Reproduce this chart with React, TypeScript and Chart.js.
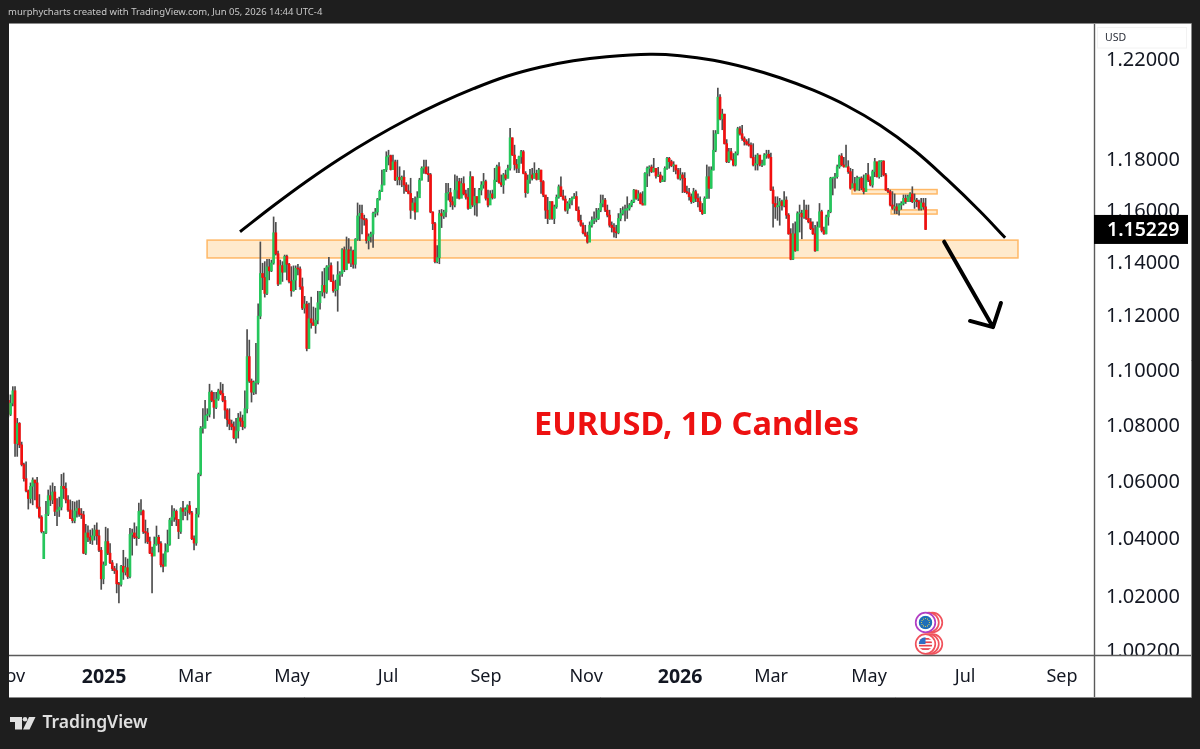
import React, { useEffect, useRef } from "react";
import { Chart, registerables } from "chart.js";

Chart.register(...registerables);

const closes = [
1.0835,1.0875,1.0920,1.0730,1.0802,1.0725,1.0655,1.0605,1.0562,1.0535,
1.0578,1.0600,1.0590,1.0505,1.0470,1.0420,1.0415,1.0480,1.0545,1.0530,
1.0558,1.0490,1.0495,1.0505,1.0578,1.0570,1.0530,1.0495,1.0465,1.0458,
1.0492,1.0500,1.0480,1.0478,1.0345,1.0415,1.0400,1.0390,1.0405,1.0425,
1.0405,1.0355,1.0257,1.0305,1.0385,1.0345,1.0312,1.0292,1.0285,1.0240,
1.0238,1.0300,1.0280,1.0295,1.0265,1.0410,1.0415,1.0400,1.0398,1.0490,
1.0492,1.0420,1.0415,1.0385,1.0345,1.0335,1.0375,1.0400,1.0378,1.0305,
1.0300,1.0350,1.0375,1.0460,1.0470,1.0490,1.0462,1.0420,1.0500,1.0490,
1.0495,1.0510,1.0485,1.0395,1.0380,1.0480,1.0620,1.0785,1.0785,1.0830,
1.0835,1.0915,1.0885,1.0860,1.0890,1.0920,1.0910,1.0885,1.0850,1.0815,
1.0800,1.0790,1.0750,1.0775,1.0822,1.0810,1.0790,1.0855,1.1045,1.0955,
1.0915,1.0950,1.0950,1.1195,1.1355,1.1340,1.1280,1.1380,1.1365,1.1395,
1.1510,1.1430,1.1315,1.1385,1.1360,1.1420,1.1390,1.1325,1.1290,1.1330,
1.1375,1.1372,1.1305,1.1225,1.1240,1.1075,1.1185,1.1170,1.1160,1.1180,
1.1245,1.1285,1.1310,1.1285,1.1380,1.1385,1.1325,1.1290,1.1295,1.1350,
1.1355,1.1445,1.1370,1.1445,1.1395,1.1440,1.1390,1.1485,1.1575,1.1585,
1.1565,1.1560,1.1480,1.1495,1.1505,1.1585,1.1590,1.1640,1.1670,1.1695,
1.1755,1.1805,1.1810,1.1755,1.1785,1.1715,1.1725,1.1715,1.1725,1.1695,
1.1672,1.1662,1.1597,1.1625,1.1590,1.1645,1.1714,1.1760,1.1765,1.1740,
1.1735,1.1590,1.1545,1.1400,1.1415,1.1584,1.1575,1.1590,1.1662,1.1665,
1.1630,1.1617,1.1675,1.1708,1.1643,1.1700,1.1660,1.1647,1.1604,1.1727,
1.1617,1.1650,1.1625,1.1675,1.1695,1.1708,1.1643,1.1617,1.1660,1.1645,
1.1714,1.1766,1.1704,1.1695,1.1734,1.1721,1.1760,1.1880,1.1812,1.1775,
1.1760,1.1805,1.1825,1.1740,1.1665,1.1714,1.1734,1.1721,1.1740,1.1717,
1.1753,1.1708,1.1656,1.1597,1.1565,1.1630,1.1565,1.1610,1.1647,1.1688,
1.1652,1.1640,1.1597,1.1623,1.1636,1.1643,1.1650,1.1597,1.1558,1.1539,
1.1510,1.1500,1.1474,1.1539,1.1558,1.1560,1.1565,1.1597,1.1623,1.1636,
1.1597,1.1578,1.1539,1.1530,1.1513,1.1510,1.1565,1.1584,1.1597,1.1597,
1.1604,1.1617,1.1630,1.1675,1.1643,1.1660,1.1623,1.1617,1.1740,1.1760,
1.1765,1.1747,1.1760,1.1730,1.1734,1.1708,1.1714,1.1760,1.1799,1.1786,
1.1770,1.1773,1.1753,1.1721,1.1734,1.1721,1.1669,1.1665,1.1649,1.1630,
1.1669,1.1643,1.1630,1.1597,1.1584,1.1643,1.1727,1.1682,1.1753,1.1831,
1.1896,1.2042,1.1955,1.1974,1.1857,1.1786,1.1825,1.1795,1.1773,1.1818,
1.1916,1.1896,1.1877,1.1865,1.1855,1.1851,1.1803,1.1773,1.1778,1.1812,
1.1773,1.1773,1.1812,1.1815,1.1803,1.1675,1.1623,1.1610,1.1615,1.1630,
1.1615,1.1636,1.1578,1.1506,1.1409,1.1506,1.1441,1.1584,1.1585,1.1571,
1.1597,1.1565,1.1552,1.1526,1.1506,1.1441,1.1532,1.1591,1.1519,1.1506,
1.1571,1.1591,1.1721,1.1723,1.1727,1.1766,1.1808,1.1773,1.1766,1.1766,
1.1747,1.1682,1.1700,1.1675,1.1721,1.1721,1.1682,1.1669,1.1734,1.1714,
1.1695,1.1747,1.1786,1.1727,1.1786,1.1788,1.1734,1.1675,1.1669,1.1617,
1.1604,1.1610,1.1597,1.1617,1.1623,1.1643,1.1630,1.1649,1.1660,1.1630,
1.1636,1.1630,1.1604,1.1625,1.1610,1.15229,
];

const highs = [
1.0905,1.0905,1.0935,1.0935,1.0820,1.0805,1.0735,1.0660,1.0665,1.0565,
1.0590,1.0608,1.0600,1.0610,1.0549,1.0475,1.0420,1.0525,1.0565,1.0580,
1.0590,1.0578,1.0535,1.0540,1.0620,1.0625,1.0590,1.0545,1.0530,1.0525,
1.0523,1.0527,1.0530,1.0500,1.0490,1.0445,1.0440,1.0425,1.0430,1.0442,
1.0450,1.0425,1.0365,1.0315,1.0435,1.0430,1.0378,1.0320,1.0300,1.0309,
1.0245,1.0303,1.0355,1.0330,1.0325,1.0431,1.0428,1.0450,1.0437,1.0519,
1.0531,1.0495,1.0460,1.0431,1.0401,1.0366,1.0401,1.0439,1.0407,1.0385,
1.0343,1.0378,1.0425,1.0466,1.0510,1.0500,1.0495,1.0454,1.0503,1.0525,
1.0503,1.0513,1.0525,1.0490,1.0405,1.0501,1.0625,1.0791,1.0855,1.0885,
1.0855,1.0944,1.0920,1.0914,1.0914,1.0926,1.0950,1.0944,1.0900,1.0855,
1.0855,1.0814,1.0808,1.0820,1.0838,1.0844,1.0832,1.0920,1.1145,1.1106,
1.0963,1.0956,1.1094,1.1241,1.1475,1.1394,1.1400,1.1409,1.1409,1.1406,
1.1571,1.1550,1.1440,1.1406,1.1400,1.1425,1.1425,1.1394,1.1381,1.1384,
1.1384,1.1390,1.1380,1.1338,1.1269,1.1250,1.1244,1.1266,1.1229,1.1225,
1.1288,1.1288,1.1362,1.1375,1.1385,1.1416,1.1395,1.1350,1.1330,1.1400,
1.1362,1.1450,1.1456,1.1494,1.1488,1.1456,1.1444,1.1488,1.1625,1.1617,
1.1617,1.1578,1.1565,1.1506,1.1513,1.1590,1.1604,1.1643,1.1675,1.1753,
1.1756,1.1825,1.1831,1.1812,1.1812,1.1792,1.1792,1.1766,1.1730,1.1751,
1.1704,1.1695,1.1721,1.1643,1.1649,1.1669,1.1721,1.1766,1.1792,1.1792,
1.1766,1.1740,1.1591,1.1550,1.1461,1.1597,1.1600,1.1597,1.1701,1.1701,
1.1682,1.1649,1.1734,1.1730,1.1721,1.1721,1.1727,1.1675,1.1682,1.1747,
1.1727,1.1682,1.1649,1.1682,1.1708,1.1740,1.1714,1.1675,1.1673,1.1675,
1.1760,1.1773,1.1782,1.1734,1.1740,1.1753,1.1773,1.1918,1.1880,1.1851,
1.1795,1.1808,1.1831,1.1830,1.1747,1.1734,1.1756,1.1760,1.1782,1.1753,
1.1760,1.1753,1.1712,1.1652,1.1647,1.1630,1.1630,1.1617,1.1656,1.1695,
1.1727,1.1675,1.1652,1.1630,1.1643,1.1649,1.1662,1.1669,1.1610,1.1578,
1.1548,1.1539,1.1513,1.1552,1.1571,1.1591,1.1604,1.1604,1.1656,1.1656,
1.1643,1.1617,1.1597,1.1552,1.1545,1.1539,1.1584,1.1604,1.1610,1.1617,
1.1649,1.1623,1.1636,1.1678,1.1675,1.1673,1.1665,1.1669,1.1743,1.1766,
1.1770,1.1773,1.1799,1.1753,1.1764,1.1745,1.1730,1.1766,1.1803,1.1803,
1.1792,1.1786,1.1766,1.1760,1.1760,1.1743,1.1743,1.1691,1.1682,1.1660,
1.1682,1.1675,1.1660,1.1649,1.1623,1.1649,1.1773,1.1766,1.1766,1.1909,
1.1909,1.2078,1.2052,1.1994,1.1974,1.1873,1.1838,1.1838,1.1818,1.1825,
1.1922,1.1925,1.1929,1.1884,1.1873,1.1877,1.1860,1.1857,1.1812,1.1818,
1.1799,1.1792,1.1818,1.1831,1.1831,1.1820,1.1688,1.1649,1.1649,1.1643,
1.1636,1.1669,1.1649,1.1584,1.1526,1.1545,1.1552,1.1591,1.1617,1.1597,
1.1636,1.1617,1.1617,1.1565,1.1552,1.1539,1.1552,1.1623,1.1597,1.1532,
1.1578,1.1597,1.1725,1.1725,1.1740,1.1773,1.1812,1.1818,1.1803,1.1851,
1.1790,1.1760,1.1756,1.1725,1.1730,1.1725,1.1727,1.1734,1.1740,1.1779,
1.1727,1.1753,1.1799,1.1753,1.1790,1.1790,1.1790,1.1740,1.1682,1.1675,
1.1669,1.1660,1.1623,1.1623,1.1630,1.1656,1.1656,1.1656,1.1665,1.1688,
1.1660,1.1643,1.1636,1.1643,1.1643,1.1643,
];

const lows = [
1.0825,1.0830,1.0865,1.0684,1.0684,1.0715,1.0650,1.0596,1.0558,1.0498,
1.0519,1.0513,1.0530,1.0500,1.0466,1.0415,1.0326,1.0412,1.0475,1.0510,
1.0517,1.0475,1.0440,1.0472,1.0495,1.0535,1.0520,1.0490,1.0465,1.0450,
1.0450,1.0470,1.0472,1.0465,1.0343,1.0340,1.0385,1.0378,1.0375,1.0390,
1.0375,1.0350,1.0221,1.0240,1.0303,1.0340,1.0309,1.0285,1.0275,1.0209,
1.0175,1.0232,1.0255,1.0270,1.0258,1.0260,1.0338,1.0395,1.0372,1.0395,
1.0478,1.0413,1.0380,1.0378,1.0343,1.0209,1.0338,1.0372,1.0349,1.0298,
1.0281,1.0315,1.0349,1.0372,1.0440,1.0455,1.0440,1.0395,1.0413,1.0460,
1.0475,1.0460,1.0480,1.0392,1.0356,1.0372,1.0470,1.0615,1.0767,1.0785,
1.0812,1.0825,1.0880,1.0820,1.0855,1.0885,1.0905,1.0880,1.0820,1.0791,
1.0779,1.0779,1.0746,1.0732,1.0749,1.0791,1.0779,1.0785,1.0840,1.0950,
1.0879,1.0906,1.0909,1.0944,1.1185,1.1294,1.1266,1.1275,1.1331,1.1362,
1.1390,1.1425,1.1309,1.1319,1.1325,1.1362,1.1331,1.1319,1.1269,1.1288,
1.1294,1.1350,1.1295,1.1219,1.1206,1.1066,1.1075,1.1150,1.1166,1.1131,
1.1166,1.1221,1.1270,1.1263,1.1280,1.1331,1.1325,1.1284,1.1270,1.1213,
1.1310,1.1344,1.1362,1.1369,1.1394,1.1381,1.1375,1.1375,1.1481,1.1480,
1.1506,1.1539,1.1470,1.1448,1.1474,1.1454,1.1571,1.1578,1.1636,1.1669,
1.1695,1.1747,1.1773,1.1753,1.1756,1.1712,1.1695,1.1695,1.1688,1.1662,
1.1669,1.1660,1.1565,1.1597,1.1561,1.1597,1.1662,1.1714,1.1740,1.1738,
1.1708,1.1587,1.1522,1.1395,1.1395,1.1392,1.1530,1.1565,1.1571,1.1636,
1.1610,1.1600,1.1610,1.1643,1.1640,1.1652,1.1656,1.1640,1.1600,1.1604,
1.1610,1.1578,1.1574,1.1630,1.1656,1.1682,1.1636,1.1610,1.1636,1.1640,
1.1643,1.1708,1.1701,1.1688,1.1662,1.1714,1.1721,1.1753,1.1810,1.1753,
1.1743,1.1743,1.1779,1.1738,1.1647,1.1662,1.1701,1.1714,1.1721,1.1714,
1.1717,1.1662,1.1649,1.1565,1.1545,1.1561,1.1561,1.1545,1.1604,1.1643,
1.1649,1.1636,1.1593,1.1584,1.1604,1.1617,1.1643,1.1595,1.1552,1.1535,
1.1506,1.1496,1.1470,1.1480,1.1532,1.1545,1.1552,1.1561,1.1591,1.1610,
1.1591,1.1571,1.1532,1.1513,1.1493,1.1491,1.1506,1.1556,1.1578,1.1556,
1.1565,1.1597,1.1610,1.1626,1.1639,1.1634,1.1621,1.1617,1.1617,1.1688,
1.1730,1.1743,1.1745,1.1721,1.1727,1.1704,1.1708,1.1708,1.1756,1.1760,
1.1766,1.1747,1.1738,1.1717,1.1714,1.1665,1.1665,1.1660,1.1636,1.1623,
1.1626,1.1630,1.1610,1.1591,1.1580,1.1584,1.1643,1.1643,1.1682,1.1753,
1.1825,1.1896,1.1951,1.1912,1.1855,1.1782,1.1782,1.1792,1.1769,1.1769,
1.1812,1.1890,1.1870,1.1851,1.1851,1.1847,1.1801,1.1769,1.1753,1.1753,
1.1769,1.1766,1.1773,1.1799,1.1799,1.1673,1.1532,1.1565,1.1558,1.1539,
1.1597,1.1610,1.1565,1.1504,1.1407,1.1407,1.1439,1.1444,1.1513,1.1487,
1.1565,1.1561,1.1548,1.1522,1.1504,1.1439,1.1448,1.1532,1.1513,1.1504,
1.1506,1.1539,1.1587,1.1656,1.1682,1.1721,1.1760,1.1769,1.1764,1.1764,
1.1740,1.1678,1.1691,1.1671,1.1678,1.1673,1.1676,1.1660,1.1682,1.1708,
1.1691,1.1686,1.1727,1.1725,1.1721,1.1727,1.1730,1.1673,1.1665,1.1613,
1.1600,1.1584,1.1584,1.1578,1.1600,1.1617,1.1623,1.1630,1.1630,1.1626,
1.1604,1.1610,1.1597,1.1597,1.1600,1.1522,
];

const firstOpen = 1.0885;
const gapOpens: Record<number, number> = { 16: 1.0326 };
const lastPrice = 1.15229;

const yTickValues = [1.002, 1.02, 1.04, 1.06, 1.08, 1.1, 1.12, 1.14, 1.16, 1.18, 1.22];
const xTickPositions = [0, 43.3, 84.4, 128.3, 171.8, 216.1, 261.4, 303.9, 345.1, 389.4, 432.9, 476.7];
const xTickLabels = ["Nov", "2025", "Mar", "May", "Jul", "Sep", "Nov", "2026", "Mar", "May", "Jul", "Sep"];
const boldXTicks = ["2025", "2026"];

const zoneStarts = [89.9, 381.7, 399.4];
const zoneEnds = [456.8, 420.2, 420.2];
const zoneLows = [1.1414, 1.166, 1.1582];
const zoneHighs = [1.1482, 1.1677, 1.1598];

const curveIdx = [104.8, 119.9, 135, 150, 165.1, 180.2, 195.3, 210.4, 225.5, 240.5, 255.6, 270.7, 290.3, 303.9, 319, 334, 349.1, 364.2, 379.3, 394.4, 409.6, 424.6, 439.6, 451];
const curvePrice = [1.15141, 1.16142, 1.17095, 1.17977, 1.18783, 1.19518, 1.20177, 1.20759, 1.21263, 1.21628, 1.21891, 1.22053, 1.22151, 1.22095, 1.21911, 1.21606, 1.21202, 1.20699, 1.20077, 1.19299, 1.1833, 1.17173, 1.1593, 1.14912];
const arrowIdx = [423.4, 445.5, 435.1, 445.5, 449.1];
const arrowPrice = [1.1476, 1.1154, 1.1177, 1.1154, 1.1244];

const FONT = "'Noto Sans', sans-serif";
const DARK = "#1e1e1e";
const UP = "#25c75c";
const DOWN = "#f20f0f";
const WICK = "#4d4d4d";

const opens = closes.map((_, i) => gapOpens[i] ?? (i === 0 ? firstOpen : closes[i - 1]));

function drawCoin(ctx: CanvasRenderingContext2D, cx: number, cy: number, us: boolean) {
  const offsets = [7, 3.5, 0];
  offsets.forEach((o, k) => {
    ctx.beginPath();
    ctx.arc(cx + o, cy, 9.8, 0, Math.PI * 2);
    ctx.fillStyle = "#ffffff";
    ctx.fill();
    ctx.lineWidth = 1.7;
    ctx.strokeStyle = us ? "#f0525c" : k === 2 ? "#b23fc4" : "#f0525c";
    ctx.stroke();
  });
  ctx.save();
  ctx.beginPath();
  ctx.arc(cx, cy, 6.8, 0, Math.PI * 2);
  ctx.clip();
  if (us) {
    ctx.fillStyle = "#ffffff";
    ctx.fillRect(cx - 7, cy - 7, 14, 14);
    ctx.fillStyle = "#e8424c";
    for (let s = -6; s < 7; s += 3.4) ctx.fillRect(cx - 7, cy + s, 14, 1.7);
    ctx.fillStyle = "#2f6fc4";
    ctx.fillRect(cx - 7, cy - 7, 7, 7);
  } else {
    ctx.fillStyle = "#1f6fb8";
    ctx.fillRect(cx - 7, cy - 7, 14, 14);
    ctx.fillStyle = "#e8d24a";
    for (let a = 0; a < 12; a += 1) {
      ctx.beginPath();
      ctx.arc(cx + 4 * Math.cos((a * Math.PI) / 6), cy + 4 * Math.sin((a * Math.PI) / 6), 0.6, 0, Math.PI * 2);
      ctx.fill();
    }
  }
  ctx.restore();
}

const framePlugin = {
  id: "frame",
  beforeDraw(chart: any) {
    const { ctx, width, height } = chart;
    ctx.save();
    ctx.fillStyle = DARK;
    ctx.fillRect(0, 0, width, height);
    ctx.fillStyle = "#ffffff";
    ctx.fillRect(9, 23.5, 1182, 673.5);
    ctx.restore();
  },
  beforeDatasetsDraw(chart: any) {
    const { ctx, scales } = chart;
    ctx.save();
    zoneStarts.forEach((s, i) => {
      const x0 = scales.x.getPixelForValue(s);
      const x1 = scales.x.getPixelForValue(zoneEnds[i]);
      const y0 = scales.y.getPixelForValue(zoneHighs[i]);
      const y1 = scales.y.getPixelForValue(zoneLows[i]);
      ctx.fillStyle = "rgba(255,152,0,0.2)";
      ctx.fillRect(x0, y0, x1 - x0, y1 - y0);
      ctx.strokeStyle = "#ffb866";
      ctx.lineWidth = 1.5;
      ctx.strokeRect(x0, y0, x1 - x0, y1 - y0);
    });
    ctx.restore();
  },
  afterDraw(chart: any) {
    const { ctx, scales } = chart;
    ctx.save();
    ctx.fillStyle = "#ed1111";
    ctx.font = `bold 32.5px ${FONT}`;
    ctx.textAlign = "left";
    ctx.textBaseline = "middle";
    ctx.fillText("EURUSD, 1D Candles", scales.x.getPixelForValue(237.8), scales.y.getPixelForValue(1.08) + 2);

    drawCoin(ctx, 925.5, 622.5, false);
    drawCoin(ctx, 925.5, 644, true);

    // clip axis text against the pane edges
    ctx.fillStyle = "#ffffff";
    ctx.fillRect(1095, 655, 96, 10);
    ctx.fillStyle = DARK;
    ctx.fillRect(0, 640, 9, 60);

    ctx.strokeStyle = "#5a5a5a";
    ctx.lineWidth = 1.4;
    ctx.beginPath();
    ctx.moveTo(1094.5, 24);
    ctx.lineTo(1094.5, 697);
    ctx.moveTo(9, 655.5);
    ctx.lineTo(1191, 655.5);
    ctx.stroke();
    ctx.strokeStyle = "#8a8a8a";
    ctx.lineWidth = 1;
    ctx.beginPath();
    ctx.moveTo(9, 23.5);
    ctx.lineTo(1191.5, 23.5);
    ctx.lineTo(1191.5, 697.5);
    ctx.lineTo(9, 697.5);
    ctx.stroke();

    // unit box
    ctx.fillStyle = "#ffffff";
    ctx.fillRect(1096, 25, 94, 27);
    ctx.strokeStyle = "#f2f2f2";
    ctx.strokeRect(1097.5, 27.5, 89, 20.5);
    ctx.fillStyle = "#2a2e39";
    ctx.font = `10.5px ${FONT}`;
    ctx.fillText("USD", 1105, 38);

    // last price tag
    const py = scales.y.getPixelForValue(lastPrice);
    ctx.fillStyle = "#000000";
    ctx.fillRect(1094, py - 14.5, 94, 29);
    ctx.fillStyle = "#ffffff";
    ctx.font = `600 19.5px ${FONT}`;
    ctx.fillText(lastPrice.toFixed(5), 1107, py + 1);

    // header and brand
    ctx.fillStyle = "#c9c9c9";
    ctx.font = `9.5px ${FONT}`;
    ctx.fillText("murphycharts created with TradingView.com, Jun 05, 2026 14:44 UTC-4", 8, 12.5);

    ctx.fillStyle = "#e0e0e0";
    ctx.beginPath();
    ctx.moveTo(10, 717);
    ctx.lineTo(22, 717);
    ctx.lineTo(22, 729.5);
    ctx.lineTo(15, 729.5);
    ctx.lineTo(15, 722);
    ctx.lineTo(10, 722);
    ctx.closePath();
    ctx.fill();
    ctx.beginPath();
    ctx.arc(25, 719.3, 2.3, 0, Math.PI * 2);
    ctx.fill();
    ctx.beginPath();
    ctx.moveTo(29, 717);
    ctx.lineTo(35.5, 717);
    ctx.lineTo(29.5, 729.5);
    ctx.lineTo(23, 729.5);
    ctx.closePath();
    ctx.fill();
    ctx.font = `600 17.5px ${FONT}`;
    ctx.fillText("TradingView", 42.5, 723);
    ctx.restore();
  },
};

export default function App() {
  const ref = useRef<HTMLCanvasElement | null>(null);
  useEffect(() => {
    document.body.style.margin = "0";
    document.body.style.background = DARK;
    const chart = new Chart(ref.current as HTMLCanvasElement, {
      type: "bar",
      data: {
        datasets: [
          {
            type: "line",
            data: curveIdx.map((x, i) => ({ x, y: curvePrice[i] })),
            borderColor: "#000000",
            borderWidth: 3,
            tension: 0.4,
            pointRadius: 0,
            order: 1,
          },
          {
            type: "line",
            data: arrowIdx.map((x, i) => ({ x, y: arrowPrice[i] })),
            borderColor: "#000000",
            borderWidth: 4,
            tension: 0,
            pointRadius: 0,
            borderCapStyle: "round",
            borderJoinStyle: "round",
            order: 1,
          },
          {
            type: "bar",
            data: closes.map((_, i) => ({ x: i, y: [opens[i], closes[i]] })),
            backgroundColor: closes.map((c, i) => (c >= opens[i] ? UP : DOWN)),
            barThickness: 2,
            minBarLength: 1,
            grouped: false,
            order: 2,
          },
          {
            type: "bar",
            data: closes.map((_, i) => ({ x: i, y: [lows[i], highs[i]] })),
            backgroundColor: WICK,
            barThickness: 1,
            grouped: false,
            order: 3,
          },
        ],
      } as any,
      options: {
        responsive: false,
        animation: false,
        devicePixelRatio: 1,
        events: [],
        layout: { padding: { left: 9, top: 24, right: 9, bottom: 52 } },
        plugins: { legend: { display: false }, tooltip: { enabled: false } },
        scales: {
          x: {
            type: "linear",
            position: "bottom",
            offset: false,
            min: 0.27,
            max: 491.2,
            grid: { display: false },
            border: { display: false },
            afterBuildTicks(scale: any) {
              scale.ticks = xTickPositions.map((value) => ({ value }));
            },
            afterFit(scale: any) {
              scale.height = 42;
              scale.paddingLeft = 0;
              scale.paddingRight = 0;
            },
            ticks: {
              autoSkip: false,
              maxRotation: 0,
              padding: 3,
              color: "#131722",
              callback: (_v: any, i: number) => xTickLabels[i],
              font: (c: any) => {
                const bold = boldXTicks.includes(xTickLabels[c.index]);
                return { family: FONT, size: bold ? 19.5 : 18, weight: bold ? "bold" : "normal" };
              },
            },
          },
          y: {
            type: "logarithmic",
            position: "right",
            min: 1.0,
            max: 1.2339,
            beginAtZero: false,
            grid: { display: false },
            border: { display: false },
            afterBuildTicks(scale: any) {
              scale.ticks = yTickValues.map((value) => ({ value }));
            },
            afterFit(scale: any) {
              scale.width = 97;
              scale.paddingTop = 0;
              scale.paddingBottom = 0;
            },
            afterUpdate(scale: any) {
              // Noto Sans sits high on a middle baseline: nudge the axis labels onto their ticks.
              if (scale.__nudged) return;
              scale.__nudged = true;
              const drawLabels = scale.drawLabels.bind(scale);
              scale.drawLabels = (area: any) => {
                scale.ctx.save();
                scale.ctx.translate(0, 2);
                drawLabels(area);
                scale.ctx.restore();
              };
            },
            ticks: {
              autoSkip: false,
              padding: 4,
              color: "#131722",
              font: { family: FONT, size: 20 },
              callback: (v: any) => Number(v).toFixed(5),
            },
          },
        },
      } as any,
      plugins: [framePlugin] as any,
    });
    return () => chart.destroy();
  }, []);
  return <canvas ref={ref} width={1200} height={749} style={{ display: "block" }} />;
}
